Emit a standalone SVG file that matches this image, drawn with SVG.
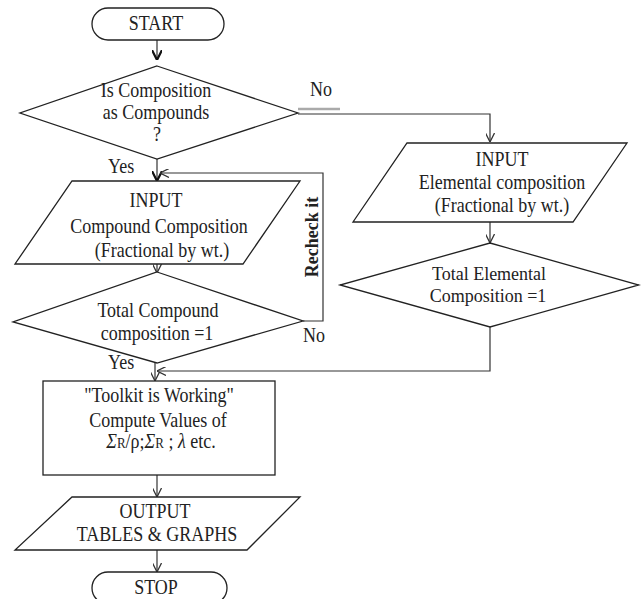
<svg xmlns="http://www.w3.org/2000/svg" width="641" height="599" viewBox="0 0 641 599">
<style>
.s{fill:#fff;stroke:#222;stroke-width:1.3}
.c{fill:none;stroke:#333;stroke-width:1.2}
.t{font-family:"Liberation Serif","Times New Roman",serif;font-size:18px;fill:#222;text-anchor:middle}
.l{font-family:"Liberation Serif","Times New Roman",serif;font-size:18px;fill:#222}
.u{stroke:#aaa;stroke-width:2.5}
</style>
<defs>
<marker id="a" viewBox="0 0 10 10" refX="10" refY="5" markerWidth="9" markerHeight="9" markerUnits="userSpaceOnUse" orient="auto">
<path d="M0,0 L10,5 L0,10" fill="none" stroke="#333" stroke-width="1.4"/>
</marker>
<marker id="b" viewBox="0 0 10 10" refX="10" refY="5" markerWidth="10" markerHeight="10" markerUnits="userSpaceOnUse" orient="auto">
<path d="M0,0 L10,5 L0,10" fill="none" stroke="#111" stroke-width="2.2"/>
</marker>
</defs>
<rect width="641" height="599" fill="#fff"/>
<g id="connectors">
<line class="c" x1="157" y1="40" x2="157" y2="60" marker-end="url(#b)"/>
<line class="c" x1="157" y1="159" x2="157" y2="181" marker-end="url(#b)"/>
<polyline class="c" points="298,114 490,114 490,142" marker-end="url(#a)"/>
<line class="c" x1="490" y1="222" x2="490" y2="243" marker-end="url(#a)"/>
<polyline class="c" points="303,321 323,321 323,173 160,173" marker-end="url(#a)"/>
<line class="c" x1="157" y1="264" x2="157" y2="273" marker-end="url(#a)"/>
<line class="c" x1="155" y1="363" x2="155" y2="381" marker-end="url(#a)"/>
<polyline class="c" points="490,327 490,371 157,371" marker-end="url(#a)"/>
<line class="c" x1="157" y1="475" x2="157" y2="497" marker-end="url(#a)"/>
<line class="c" x1="157" y1="550" x2="157" y2="572" marker-end="url(#a)"/>
<line class="u" x1="298" y1="109" x2="340" y2="109"/>
<line class="u" x1="97" y1="183" x2="145" y2="183"/>
<text class="l" transform="translate(310,96) scale(1,1.12)">No</text>
<text class="l" transform="translate(108,173) scale(1,1.12)">Yes</text>
<text class="l" transform="translate(303,342) scale(1,1.12)">No</text>
<text class="l" transform="translate(108,369) scale(1,1.12)">Yes</text>
<text class="t" font-weight="bold" font-size="19" transform="translate(318,237) rotate(-90)">Recheck it</text>
</g>
<g id="start">
<rect class="s" x="92" y="8" width="132" height="32" rx="16"/>
<text class="t" transform="translate(156,30) scale(1,1.12)">START</text>
</g>
<g id="q1">
<polygon class="s" points="157,66 298,113 157,159 20,113"/>
<text class="t" transform="translate(156,97) scale(1,1.12)">Is Composition</text>
<text class="t" transform="translate(156,119) scale(1,1.12)">as Compounds</text>
<text class="t" transform="translate(157,141) scale(1,1.12)">?</text>
</g>
<g id="inputCompound">
<polygon class="s" points="72,181 300,181 243,264 15,264"/>
<text class="t" transform="translate(156,207) scale(1,1.12)">INPUT</text>
<text class="t" transform="translate(159,233) scale(1,1.12)">Compound Composition</text>
<text class="t" transform="translate(162,257) scale(1,1.12)">(Fractional by wt.)</text>
</g>
<g id="q2">
<polygon class="s" points="157,272 303,321 157,363 13,322"/>
<text class="t" transform="translate(158,317) scale(1,1.12)">Total Compound</text>
<text class="t" transform="translate(157,340) scale(1,1.12)">composition =1</text>
</g>
<g id="inputElemental">
<polygon class="s" points="407,143 627,143 573,222 353,222"/>
<text class="t" transform="translate(502,166) scale(1,1.12)">INPUT</text>
<text class="t" transform="translate(502,189) scale(1,1.12)">Elemental composition</text>
<text class="t" transform="translate(502,212) scale(1,1.12)">(Fractional  by wt.)</text>
</g>
<g id="q3">
<polygon class="s" points="490,243 639,285 490,327 340,285"/>
<text class="t" transform="translate(489,280)">Total Elemental</text>
<text class="t" transform="translate(488,302)">Composition =1</text>
</g>
<g id="compute">
<rect class="s" x="43" y="381" width="232" height="94"/>
<text class="t" transform="translate(159,402) scale(1,1.12)">"Toolkit is Working"</text>
<text class="t" transform="translate(158,427) scale(1,1.12)">Compute  Values of</text>
<text class="t" transform="translate(161,448) scale(1,1.12)"><tspan font-style="italic">Σ</tspan><tspan font-size="13">R</tspan>/ρ;<tspan font-style="italic">Σ</tspan><tspan font-size="13">R</tspan> ; <tspan font-style="italic">λ</tspan> etc.</text>
</g>
<g id="output">
<polygon class="s" points="72,497 300,497 247,550 15,550"/>
<text class="t" transform="translate(155,518) scale(1,1.12)">OUTPUT</text>
<text class="t" transform="translate(157,541) scale(1,1.12)">TABLES &amp; GRAPHS</text>
</g>
<g id="stop">
<rect class="s" x="92" y="572" width="135" height="32" rx="16"/>
<text class="t" transform="translate(156,594) scale(1,1.12)">STOP</text>
</g>
</svg>
